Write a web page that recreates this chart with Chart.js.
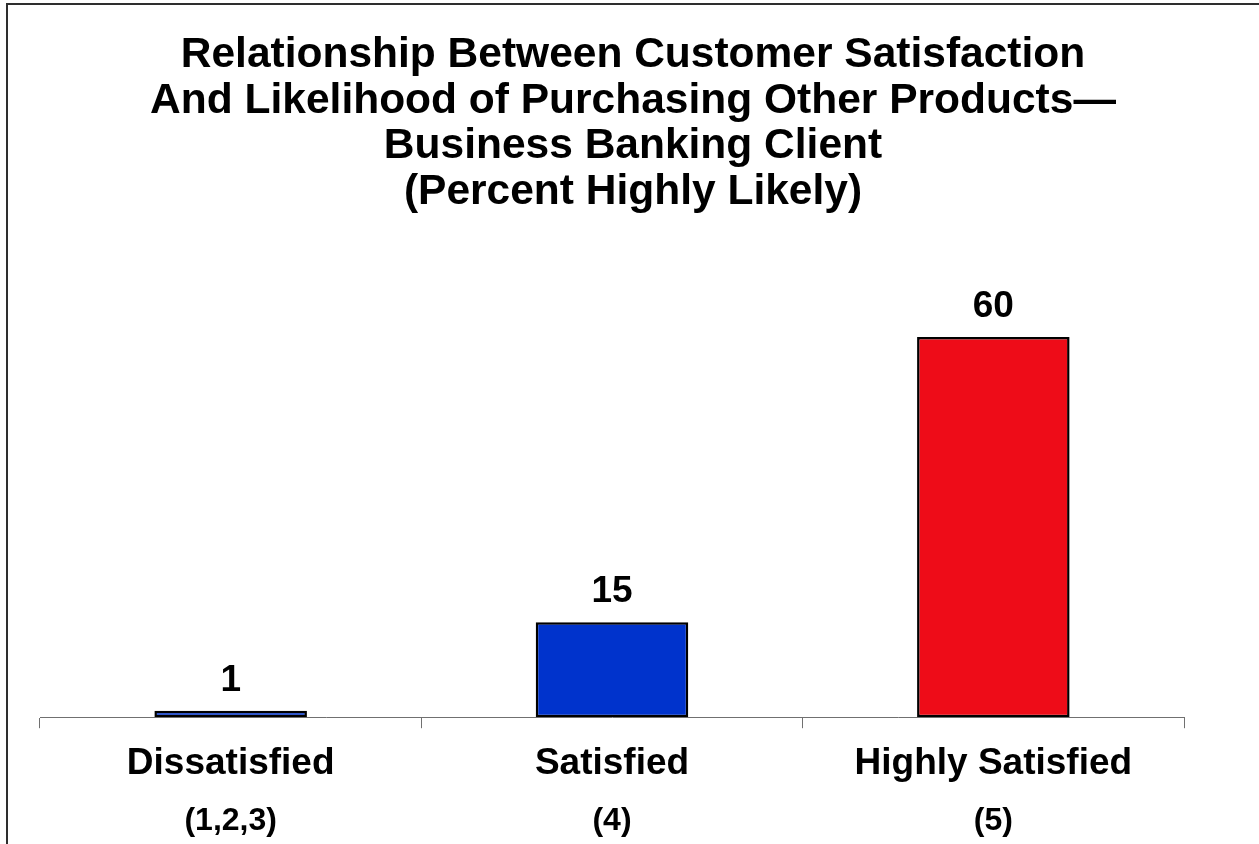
<!DOCTYPE html>
<html>
<head>
<meta charset="utf-8">
<title>Customer Satisfaction and Likelihood of Purchasing</title>
<script src="https://cdn.jsdelivr.net/npm/chart.js@4/dist/chart.umd.min.js"></script>
<style>
  html, body { margin: 0; padding: 0; background: #ffffff; }
  #wrap { position: relative; width: 1259px; height: 844px; overflow: hidden; }
  #frame {
    position: absolute; left: 6px; top: 3px; width: 1253px; height: 900px;
    border-top: 2px solid #2e2e2e; border-left: 2px solid #2e2e2e;
    box-sizing: border-box; pointer-events: none;
  }
  canvas { position: absolute; left: 0; top: 0; }
</style>
</head>
<body>
<div id="wrap">
  <canvas id="chart" width="1259" height="844"></canvas>
  <div id="frame"></div>
</div>
<script>
// Satisfaction groups and the share of each that is highly likely to buy other products
const categories = ['Dissatisfied', 'Satisfied', 'Highly Satisfied'];
const ratingCodes = ['(1,2,3)', '(4)', '(5)'];
const percentHighlyLikely = [1, 15, 60];
const barColors = ['#0033cc', '#0033cc', '#ee0c18'];
const titleLines = [
  'Relationship Between Customer Satisfaction',
  'And Likelihood of Purchasing Other Products\u2014',
  'Business Banking Client',
  '(Percent Highly Likely)'
];

const FONT = '"Liberation Sans", Arial, Helvetica, sans-serif';

// Writes each bar's value just above it
const valueLabels = {
  id: 'valueLabels',
  afterDatasetsDraw(chart) {
    const ctx = chart.ctx;
    const meta = chart.getDatasetMeta(0);
    ctx.save();
    ctx.font = 'bold 37px ' + FONT;
    ctx.fillStyle = '#000000';
    ctx.textAlign = 'center';
    ctx.textBaseline = 'alphabetic';
    meta.data.forEach((bar, i) => {
      const v = chart.data.datasets[0].data[i];
      ctx.fillText(String(v), bar.x, bar.y - 20);
    });
    ctx.restore();
  }
};

new Chart(document.getElementById('chart'), {
  type: 'bar',
  data: {
    labels: categories,
    datasets: [{
      data: percentHighlyLikely,
      backgroundColor: barColors,
      borderColor: '#000000',
      borderWidth: 2.5,
      borderSkipped: false,
      barPercentage: 0.4,
      categoryPercentage: 1.0
    }]
  },
  options: {
    responsive: false,
    animation: false,
    devicePixelRatio: 1,
    layout: { padding: { left: 40, right: 33, top: 0, bottom: 1 } },
    plugins: {
      legend: { display: false },
      tooltip: { enabled: false },
      title: {
        display: true,
        text: titleLines,
        color: '#000000',
        font: { family: FONT, size: 42.5, weight: 'bold', lineHeight: 1.08 },
        padding: { top: 32, bottom: 58 }
      }
    },
    scales: {
      y: {
        display: false,
        min: 0,
        max: 70
      },
      // empty right-hand margin beside the plot
      gutter: {
        type: 'linear',
        position: 'right',
        display: true,
        ticks: { display: false },
        grid: { display: false, drawTicks: false },
        border: { display: false },
        afterFit(scale) { scale.width = 42; }
      },
      x: {
        position: 'bottom',
        offset: true,
        grid: {
          offset: true,
          drawOnChartArea: false,
          drawTicks: true,
          tickLength: 11,
          color: '#707070',
          lineWidth: 1
        },
        border: { display: true, color: '#707070', width: 1 },
        ticks: {
          color: '#000000',
          padding: 13,
          font: { family: FONT, size: 37, weight: 'bold' },
          maxRotation: 0
        }
      },
      codes: {
        type: 'category',
        position: 'bottom',
        labels: ratingCodes,
        offset: true,
        grid: { display: false, drawTicks: false },
        border: { display: false },
        ticks: {
          color: '#000000',
          padding: 3,
          font: { family: FONT, size: 32, weight: 'bold' },
          maxRotation: 0
        }
      }
    }
  },
  plugins: [valueLabels]
});
</script>
</body>
</html>
